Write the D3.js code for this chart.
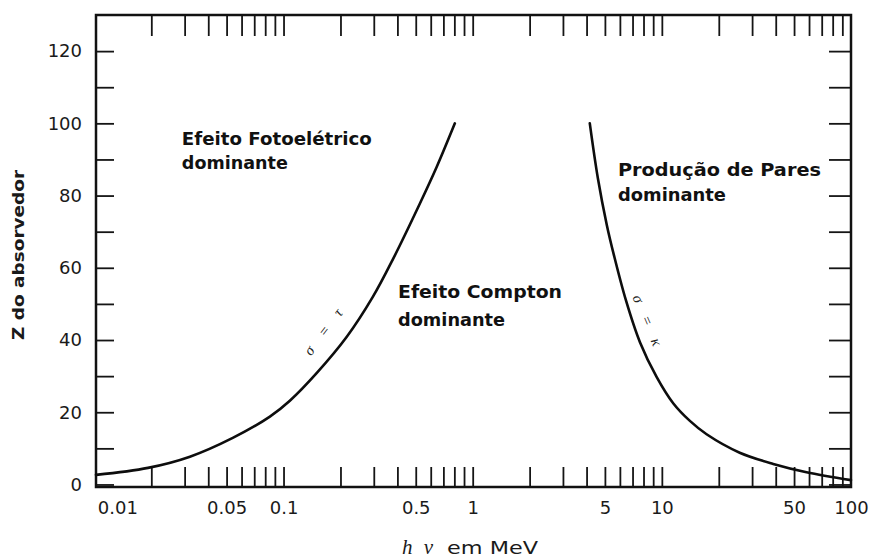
<!DOCTYPE html>
<html>
<head>
<meta charset="utf-8">
<script src="https://cdn.jsdelivr.net/npm/d3@7"></script>
<style>
    body { margin: 0; background: #fff; }
    .tick text { font-family: "DejaVu Sans", sans-serif; font-size: 18px; fill: #1a1a1a; }
    .tick line { stroke: #151515; stroke-width: 1.8; }
    .note { font-family: "DejaVu Sans", sans-serif; font-weight: bold; font-size: 17.5px; fill: #111; }
</style>
</head>
<body>
<script>
//wrap everything in a self-executing anonymous function
(function(){

//photon energy (MeV) and absorber Z along the sigma = tau boundary
var tauEnergy = [0.0102, 0.0192, 0.032, 0.0539, 0.0847, 0.108, 0.15, 0.216, 0.297, 0.379, 0.526, 0.645, 0.805];
var tauZ = [2.65, 4.6, 7.7, 12.9, 18.8, 23.2, 30.9, 40.9, 52.0, 62.4, 77.8, 87.9, 100];

//photon energy (MeV) and absorber Z along the sigma = kappa boundary
var kappaEnergy = [4.16, 4.59, 5.12, 5.58, 6.45, 7.66, 9.38, 11.48, 14.07, 17.24, 25.8, 38.8, 58.2, 100];
var kappaZ = [100, 84.8, 71.8, 63.5, 51.1, 39.4, 29.8, 22.5, 17.6, 13.9, 8.8, 5.7, 3.4, 1.2];

//axis ticks and labels
var xLabels = [0.01, 0.05, 0.1, 0.5, 1, 5, 10, 50, 100];
var xLabelText = ["0.01", "0.05", "0.1", "0.5", "1", "5", "10", "50", "100"];
var xMarks = [0.02, 0.03, 0.04, 0.05, 0.06, 0.07, 0.08, 0.09, 0.1,
    0.2, 0.3, 0.4, 0.5, 0.6, 0.7, 0.8, 0.9, 1,
    2, 3, 4, 5, 6, 7, 8, 9, 10,
    20, 30, 40, 50, 60, 70, 80, 90];
var yMarks = [0, 10, 20, 30, 40, 50, 60, 70, 80, 90, 100, 110, 120];
var yLabels = [0, 20, 40, 60, 80, 100, 120];

window.onload = drawChart();

function drawChart(){
    var width = 869,
        height = 559;

    var frame = {left: 96, right: 851, top: 15, bottom: 487};

    var svg = d3.select("body")
        .append("svg")
        .attr("width", width)
        .attr("height", height);

    //log energy axis, linear Z axis
    var x = d3.scaleLog()
        .domain([0.0102, 100])
        .range([frame.left, frame.right]);

    var y = d3.scaleLinear()
        .domain([-0.7, 130])
        .range([frame.bottom, frame.top]);

    //inner ticks on all four sides
    svg.append("g")
        .attr("transform", "translate(0," + frame.bottom + ")")
        .call(d3.axisTop(x).tickValues(xMarks).tickSize(20).tickFormat(""))
        .select(".domain").remove();

    svg.append("g")
        .attr("transform", "translate(0," + frame.top + ")")
        .call(d3.axisBottom(x).tickValues(xMarks).tickSize(21).tickFormat(""))
        .select(".domain").remove();

    svg.append("g")
        .attr("transform", "translate(" + frame.left + ",0)")
        .call(d3.axisRight(y).tickValues(yMarks).tickSize(18).tickFormat(""))
        .select(".domain").remove();

    svg.append("g")
        .attr("transform", "translate(" + frame.right + ",0)")
        .call(d3.axisLeft(y).tickValues(yMarks).tickSize(22).tickFormat(""))
        .select(".domain").remove();

    //tick labels
    var xAxis = svg.append("g")
        .attr("transform", "translate(0," + frame.bottom + ")")
        .call(d3.axisBottom(x).tickValues(xLabels).tickSize(0).tickPadding(14)
            .tickFormat(function(d, i){ return xLabelText[i]; }));
    xAxis.select(".domain").remove();
    //first label sits inside the frame
    xAxis.selectAll(".tick text")
        .filter(function(d){ return d == xLabels[0]; })
        .attr("text-anchor", "start")
        .attr("dx", 3);

    svg.append("g")
        .attr("transform", "translate(" + frame.left + ",0)")
        .call(d3.axisLeft(y).tickValues(yLabels).tickSize(0).tickPadding(14))
        .select(".domain").remove();

    //frame
    svg.append("rect")
        .attr("x", frame.left)
        .attr("y", frame.top)
        .attr("width", frame.right - frame.left)
        .attr("height", frame.bottom - frame.top)
        .attr("fill", "none")
        .attr("stroke", "#111")
        .attr("stroke-width", 2.5);

    //boundary curves
    var line = d3.line()
        .x(function(d){ return x(d[0]); })
        .y(function(d){ return y(d[1]); })
        .curve(d3.curveCatmullRom.alpha(0.5));

    var tauData = tauEnergy.map(function(e, i){ return [e, tauZ[i]]; });
    var kappaData = kappaEnergy.map(function(e, i){ return [e, kappaZ[i]]; });

    [tauData, kappaData].forEach(function(data){
        svg.append("path")
            .datum(data)
            .attr("d", line)
            .attr("fill", "none")
            .attr("stroke", "#0d0d0d")
            .attr("stroke-width", 2.6)
            .attr("stroke-linecap", "round");
    });

    //region labels
    var notes = [
        {text: "Efeito Fotoelétrico", e: 0.029, z: 93.9, len: 190},
        {text: "dominante", e: 0.029, z: 87.4, len: 106},
        {text: "Efeito Compton", e: 0.403, z: 51.6, len: 164},
        {text: "dominante", e: 0.403, z: 43.8, len: 107},
        {text: "Produção de Pares", e: 5.86, z: 85.3, len: 203},
        {text: "dominante", e: 5.86, z: 78.4, len: 108}
    ];
    svg.selectAll(".note")
        .data(notes)
        .enter()
        .append("text")
        .attr("class", "note")
        .attr("x", function(d){ return x(d.e); })
        .attr("y", function(d){ return y(d.z); })
        .attr("textLength", function(d){ return d.len; })
        .attr("lengthAdjust", "spacingAndGlyphs")
        .text(function(d){ return d.text; });

    //curve names written along the lines
    var curveNames = [
        {text: "σ = τ", e: 0.162, z: 42.3, angle: -53},
        {text: "σ = κ", e: 8.4, z: 45.5, angle: 67}
    ];
    svg.selectAll(".cname")
        .data(curveNames)
        .enter()
        .append("text")
        .attr("class", "cname")
        .attr("transform", function(d){
            return "translate(" + x(d.e) + "," + y(d.z) + ") rotate(" + d.angle + ")";
        })
        .attr("text-anchor", "middle")
        .attr("dy", "0.35em")
        .style("font-family", "'Liberation Serif', serif")
        .style("font-style", "italic")
        .style("font-size", "15px")
        .style("fill", "#222")
        .attr("textLength", 54)
        .text(function(d){ return d.text; });

    //axis titles
    svg.append("text")
        .attr("x", 402)
        .attr("y", 554)
        .style("font-family", "'Liberation Serif', serif")
        .style("font-style", "italic")
        .style("font-size", "21px")
        .style("fill", "#1a1a1a")
        .attr("textLength", 31)
        .text("hν");

    svg.append("text")
        .attr("x", 447)
        .attr("y", 554)
        .style("font-family", "'DejaVu Sans', sans-serif")
        .style("font-size", "17px")
        .style("fill", "#1a1a1a")
        .attr("textLength", 91)
        .attr("lengthAdjust", "spacingAndGlyphs")
        .text("em MeV");

    svg.append("text")
        .attr("transform", "translate(24," + 255 + ") rotate(-90)")
        .attr("text-anchor", "middle")
        .style("font-family", "'DejaVu Sans', sans-serif")
        .style("font-weight", "bold")
        .style("font-size", "16px")
        .style("fill", "#1a1a1a")
        .attr("textLength", 170)
        .attr("lengthAdjust", "spacingAndGlyphs")
        .text("Z do absorvedor");
};

})();
</script>
</body>
</html>
